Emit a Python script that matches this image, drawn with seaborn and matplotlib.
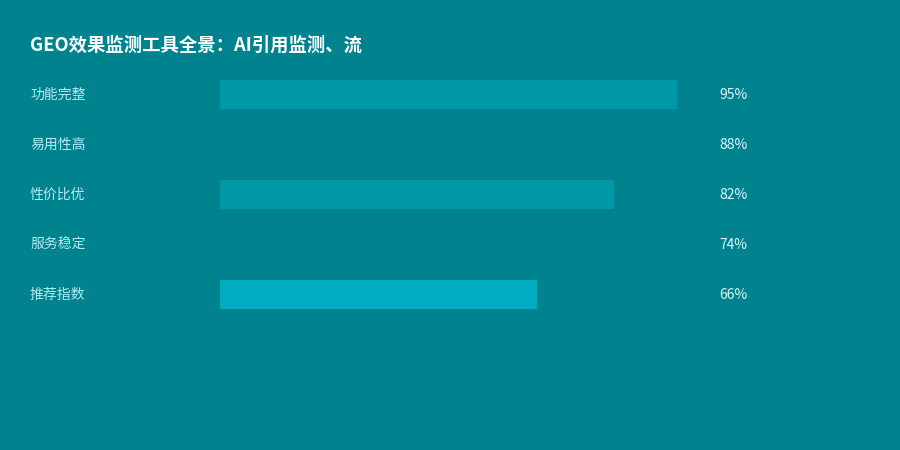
import matplotlib
matplotlib.use("Agg")
import matplotlib.pyplot as plt
import matplotlib.transforms as mtransforms
import pandas as pd
import seaborn as sns

# Data
categories = ["功能完整", "易用性高", "性价比优", "服务稳定", "推荐指数"]
values = [95, 88, 82, 74, 66]
bar_colors = ["#0097A7", "#00838F", "#0097A7", "#00838F", "#00ACC1"]
title = "GEO效果监测工具全景：AI引用监测、流"

BG = "#00838F"

sns.set_theme(style="white")
plt.rcParams['font.family'] = ['Noto Sans CJK SC', 'DejaVu Sans']

df = pd.DataFrame({"category": categories, "value": values})

fig = plt.figure(figsize=(9, 4.5), dpi=100, facecolor=BG)
ax = fig.add_axes([220 / 900, 1 - 319 / 450, 481 / 900, 250 / 450])
ax.set_facecolor(BG)

sns.barplot(data=df, x="value", y="category", hue="category",
            palette=bar_colors, legend=False, width=0.58,
            saturation=1, linewidth=0, edgecolor="none", ax=ax)

ax.set_xlim(0, 100)
ax.set_ylim(4.5, -0.5)
ax.set_xlabel("")
ax.set_ylabel("")
ax.set_xticks([])
ax.set_yticks([])
for s in ax.spines.values():
    s.set_visible(False)

# category labels on the left, values on the right
trans = mtransforms.blended_transform_factory(fig.transFigure, ax.transData)
for i, (cat, v) in enumerate(zip(categories, values)):
    ax.text(30 / 900, i + 0.02, cat, transform=trans,
            ha="left", va="center", fontsize=10, color="#B2EBF2")
    ax.text(719 / 900, i + 0.02, f"{v}%", transform=trans,
            ha="left", va="center", fontsize=10, color="#E0F7FA")

fig.text(30 / 900, 1 - 45 / 450, title, ha="left", va="center",
         fontsize=13.2, fontweight="bold", color="white")

fig.savefig("out.png", dpi=100, facecolor=BG)
